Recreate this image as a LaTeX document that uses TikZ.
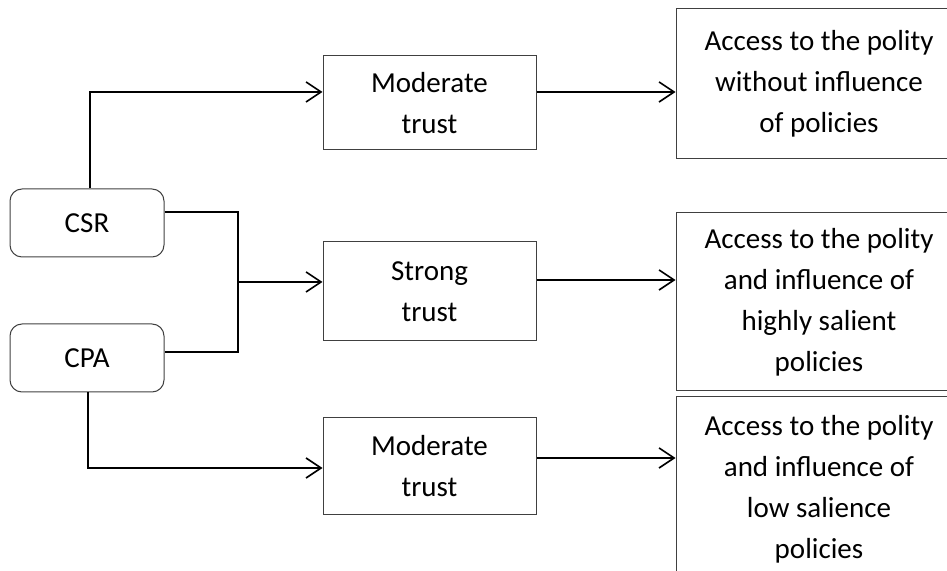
\documentclass[tikz,border=0pt]{standalone}
\usepackage{fontspec}
\setmainfont{Carlito}
\usetikzlibrary{arrows.meta}

\tikzset{
  actor/.style={draw=black!75, line width=1pt, rounded corners=12pt,
    minimum width=154pt, minimum height=68pt, font=\fontsize{29}{41}\selectfont},
  trustbox/.style={draw=black!75, line width=1pt, align=center,
    minimum width=213pt, font=\fontsize{29}{41}\selectfont},
  outcome/.style={draw=black!75, line width=1pt, align=center,
    minimum width=286pt, font=\fontsize{29}{41}\selectfont},
  link/.style={line width=1.6pt},
  conn/.style={line width=1.6pt, -{Straight Barb[length=15pt,width=20pt,line width=1.6pt]}}
}

\begin{document}
\begin{tikzpicture}[x=1pt, y=1pt]
            \clip (0, 0) rectangle (947, 570);
            % actors
            \node[actor] (csr) at (87, 347) {CSR};
            \node[actor] (cpa) at (87, 212) {CPA};
            % trust levels
            \node[trustbox, minimum height=94pt] (mod1) at (429.5, 467) {Moderate\\trust};
            \node[trustbox, minimum height=99pt] (strong) at (429.5, 278.5) {Strong\\trust};
            \node[trustbox, minimum height=97pt] (mod2) at (429.5, 103.5) {Moderate\\trust};
            % outcomes
            \node[outcome, minimum height=150pt] (acc1) at (819, 486) {Access to the polity\\without influence\\of policies};
            \node[outcome, minimum height=178pt] (acc2) at (819, 268) {Access to the polity\\and influence of\\highly salient\\policies};
            \node[outcome, minimum height=184pt] (acc3) at (819, 81) {Access to the polity\\and influence of\\low salience\\policies};
            \coordinate (join) at (238, 288);
            % connectors
            \draw[conn] ([xshift=3pt]csr.north) |- ([yshift=11pt]mod1.west);
            \draw[conn] ([yshift=11pt]mod1.east) -- ([yshift=11pt]mod1.east -| acc1.west);
            \draw[link] ([yshift=11pt]csr.east) -| (join) |- ([yshift=6pt]cpa.east);
            \draw[conn] (join) -- (join -| strong.west);
            \draw[conn] ([yshift=11.5pt]strong.east) -- ([yshift=11.5pt]strong.east -| acc2.west);
            \draw[conn] ([xshift=1pt]cpa.south) |- ([yshift=-1.5pt]mod2.west);
            \draw[conn] ([yshift=8.5pt]mod2.east) -- ([yshift=8.5pt]mod2.east -| acc3.west);
        \end{tikzpicture}
\end{document}
